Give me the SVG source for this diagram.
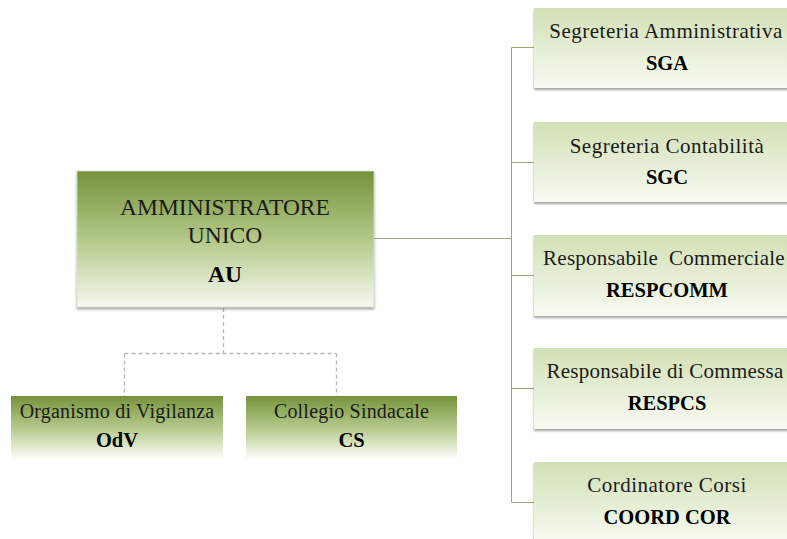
<svg xmlns="http://www.w3.org/2000/svg" width="787" height="539" viewBox="0 0 787 539">
<style>
.t{font-family:"Liberation Serif","DejaVu Serif",serif;fill:#1a1a1a;text-anchor:middle}
.s{font-size:21px;letter-spacing:0.5px}
.n{letter-spacing:0.25px}
.m{font-size:20px;letter-spacing:0.2px}
.b{font-weight:bold;fill:#000;font-size:20.5px;letter-spacing:0}
.big{font-size:23.5px}
.c{fill:none;stroke:#9aa873;stroke-width:1}
.d{fill:none;stroke:#b9bab0;stroke-width:1.3;stroke-dasharray:4 3}
</style>
<defs>
<linearGradient id="gDark" x1="0" y1="0" x2="0" y2="1">
<stop offset="0" stop-color="#76923b"/>
<stop offset="0.5" stop-color="#b3c888"/>
<stop offset="1" stop-color="#f6f9f0"/>
</linearGradient>
<linearGradient id="gDark2" x1="0" y1="0" x2="0" y2="1">
<stop offset="0" stop-color="#76923b"/>
<stop offset="0.55" stop-color="#bccf95"/>
<stop offset="1" stop-color="#ffffff"/>
</linearGradient>
<linearGradient id="gLight" x1="0" y1="0" x2="0" y2="1">
<stop offset="0" stop-color="#d2e0b5"/>
<stop offset="0.6" stop-color="#e8f0d9"/>
<stop offset="1" stop-color="#f9fbf4"/>
</linearGradient>
<filter id="sh" x="-5%" y="-5%" width="110%" height="120%">
<feDropShadow dx="0" dy="2" stdDeviation="1.2" flood-color="#555" flood-opacity="0.55"/>
</filter>
</defs>

<g id="connectors">
<path class="c" d="M374 238.5H511.5M511.5 47.5V502.5M511.5 47.5H534M511.5 162.5H534M511.5 275.5H534M511.5 388.5H534M511.5 502.5H534"/>
<path class="d" d="M223.5 308V353.5M124.5 353.5H336.5M124.5 353.5V396M336.5 353.5V396"/>
</g>

<g id="AU">
<rect x="77" y="171" width="297" height="136" fill="url(#gDark)" stroke="#d8dccf" stroke-width="0.8" filter="url(#sh)"/>
<text class="t big" x="225" y="215">AMMINISTRATORE</text>
<text class="t big" x="225" y="243">UNICO</text>
<text class="t big b" x="225" y="282" style="font-size:23.5px">AU</text>
</g>

<g id="SGA">
<rect x="534" y="8" width="266" height="80" fill="url(#gLight)" filter="url(#sh)"/>
<text class="t s" x="666" y="38">Segreteria Amministrativa</text>
<text class="t b" x="667" y="70">SGA</text>
</g>

<g id="SGC">
<rect x="534" y="122" width="266" height="80" fill="url(#gLight)" filter="url(#sh)"/>
<text class="t s" x="667" y="153">Segreteria Contabilità</text>
<text class="t b" x="667" y="184">SGC</text>
</g>

<g id="RESPCOMM">
<rect x="534" y="235" width="266" height="81" fill="url(#gLight)" filter="url(#sh)"/>
<text class="t s n" x="664" y="265" xml:space="preserve" style="white-space:pre">Responsabile  Commerciale</text>
<text class="t b" x="667" y="297">RESPCOMM</text>
</g>

<g id="RESPCS">
<rect x="534" y="348" width="266" height="81" fill="url(#gLight)" filter="url(#sh)"/>
<text class="t s n" x="665" y="378">Responsabile di Commessa</text>
<text class="t b" x="667" y="410">RESPCS</text>
</g>

<g id="COORDCOR">
<rect x="534" y="462" width="266" height="81" fill="url(#gLight)" filter="url(#sh)"/>
<text class="t s" x="667" y="492">Cordinatore Corsi</text>
<text class="t b" x="667" y="524">COORD COR</text>
</g>

<g id="OdV">
<rect x="11" y="396" width="212" height="64" fill="url(#gDark2)"/>
<text class="t m" x="117" y="418">Organismo di Vigilanza</text>
<text class="t b" x="117" y="447">OdV</text>
</g>

<g id="CS">
<rect x="246" y="396" width="211" height="64" fill="url(#gDark2)"/>
<text class="t m" x="351.5" y="418">Collegio Sindacale</text>
<text class="t b" x="351.5" y="447">CS</text>
</g>
</svg>
